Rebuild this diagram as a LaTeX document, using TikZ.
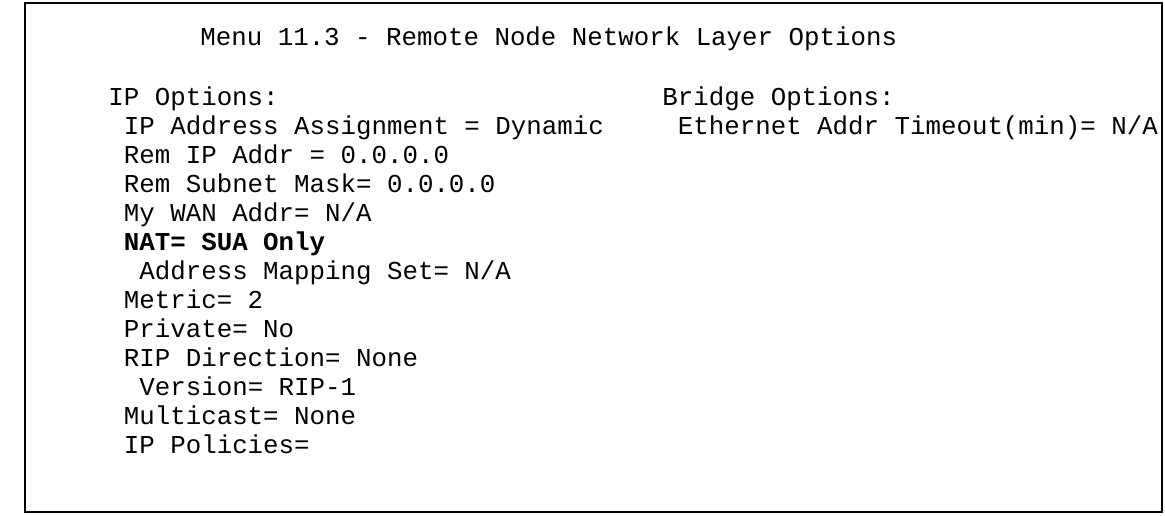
\documentclass[tikz,border=0pt]{standalone}
\usepackage{fontspec}
\setmonofont{Liberation Mono}
\begin{document}
\begin{tikzpicture}[x=0.5pt,y=-0.5pt,
				menu/.style = {font=\fontsize{12.9}{14}\ttfamily, anchor=base west, inner sep=0pt},
				frame/.style = {draw, line width=0.6pt}
			]
			\useasboundingbox (0,0) rectangle (1165,515);
			\draw[frame] (25,3) rectangle (1162,512);
			\node[menu] (title) at (200,45) {Menu 11.3 - Remote Node Network Layer Options};
			% left column
			\node[menu] (ipopt) at (108,105) {IP Options:};
			\node[menu] (assign) at (123.5,134) {IP Address Assignment = Dynamic};
			\node[menu] (remip) at (123.5,163) {Rem IP Addr = 0.0.0.0};
			\node[menu] (remmask) at (123.5,192) {Rem Subnet Mask= 0.0.0.0};
			\node[menu] (wan) at (123.5,221) {My WAN Addr= N/A};
			\node[menu, font=\fontsize{12.9}{14}\ttfamily\bfseries] (nat) at (123.5,250) {NAT= SUA Only};
			\node[menu] (mapset) at (139,279) {Address Mapping Set= N/A};
			\node[menu] (metric) at (123.5,308) {Metric= 2};
			\node[menu] (private) at (123.5,337) {Private= No};
			\node[menu] (ripdir) at (123.5,366) {RIP Direction= None};
			\node[menu] (version) at (139,395) {Version= RIP-1};
			\node[menu] (mcast) at (123.5,424) {Multicast= None};
			\node[menu] (policy) at (123.5,453) {IP Policies=};
			% right column
			\node[menu] (bropt) at (662,105) {Bridge Options:};
			\node[menu] (timeout) at (677.5,134) {Ethernet Addr Timeout(min)= N/A};
		\end{tikzpicture}
\end{document}
